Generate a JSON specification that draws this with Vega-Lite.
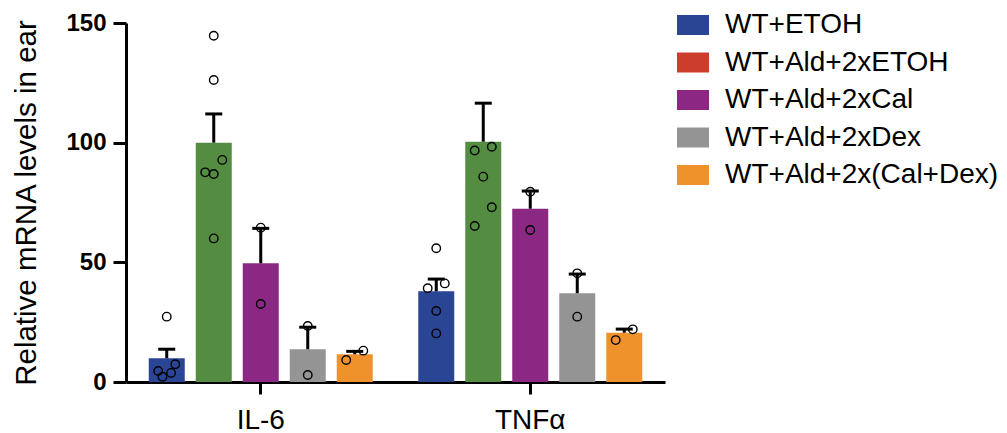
{
  "$schema": "https://vega.github.io/schema/vega-lite/v6.json",
  "autosize": {"type": "none"},
  "padding": {"left": 126, "top": 23, "right": 342, "bottom": 51},
  "width": 539,
  "height": 359,
  "config": {
    "view": {"stroke": null},
    "font": "Liberation Sans",
    "scale": {"offsetBandPaddingInner": 0.23404, "offsetBandPaddingOuter": 0.48404},
    "axisX": {"domainColor": "black", "domainWidth": 3, "tickColor": "black", "tickWidth": 3, "tickSize": 12, "labelFontSize": 28, "labelColor": "black", "labelPadding": 12, "labelAngle": 0, "grid": false, "title": null},
    "axisY": {"domainColor": "black", "domainWidth": 3, "tickColor": "black", "tickWidth": 3, "tickSize": 13, "labelFontSize": 24, "labelFontWeight": "bold", "labelColor": "black", "labelPadding": 7, "grid": false}
  },
  "datasets": {
    "bars": [
      {"gene": "IL-6", "group": "WT+ETOH", "mean": 9.9, "upper": 13.7},
      {"gene": "IL-6", "group": "WT+Ald+2xETOH", "mean": 100, "upper": 112},
      {"gene": "IL-6", "group": "WT+Ald+2xCal", "mean": 49.6, "upper": 64.2},
      {"gene": "IL-6", "group": "WT+Ald+2xDex", "mean": 13.7, "upper": 22.9},
      {"gene": "IL-6", "group": "WT+Ald+2x(Cal+Dex)", "mean": 11.6, "upper": 12.8},
      {"gene": "TNFα", "group": "WT+ETOH", "mean": 37.9, "upper": 43},
      {"gene": "TNFα", "group": "WT+Ald+2xETOH", "mean": 100.4, "upper": 116.5},
      {"gene": "TNFα", "group": "WT+Ald+2xCal", "mean": 72.4, "upper": 79.8},
      {"gene": "TNFα", "group": "WT+Ald+2xDex", "mean": 37.1, "upper": 45.1},
      {"gene": "TNFα", "group": "WT+Ald+2x(Cal+Dex)", "mean": 20.6, "upper": 22.1}
    ],
    "points": [
      {"gene": "IL-6", "slot": "E0", "value": 27.3},
      {"gene": "IL-6", "slot": "E-2", "value": 4.6},
      {"gene": "IL-6", "slot": "E+2", "value": 7.4},
      {"gene": "IL-6", "slot": "E+1", "value": 3.8},
      {"gene": "IL-6", "slot": "E-1", "value": 2.2},
      {"gene": "IL-6", "slot": "A0", "value": 144.7},
      {"gene": "IL-6", "slot": "A0", "value": 126.2},
      {"gene": "IL-6", "slot": "A+2", "value": 92.8},
      {"gene": "IL-6", "slot": "A-2", "value": 87.6},
      {"gene": "IL-6", "slot": "A0", "value": 86.9},
      {"gene": "IL-6", "slot": "A0", "value": 60.0},
      {"gene": "IL-6", "slot": "C0", "value": 64.5},
      {"gene": "IL-6", "slot": "C0", "value": 32.6},
      {"gene": "IL-6", "slot": "D0", "value": 23.4},
      {"gene": "IL-6", "slot": "D0", "value": 2.9},
      {"gene": "IL-6", "slot": "X-2", "value": 9.2},
      {"gene": "IL-6", "slot": "X+2", "value": 13.1},
      {"gene": "TNFα", "slot": "E0", "value": 55.9},
      {"gene": "TNFα", "slot": "E-2", "value": 39.2},
      {"gene": "TNFα", "slot": "E+2", "value": 41.2},
      {"gene": "TNFα", "slot": "E0", "value": 29.7},
      {"gene": "TNFα", "slot": "E0", "value": 20.3},
      {"gene": "TNFα", "slot": "A-2", "value": 96.7},
      {"gene": "TNFα", "slot": "A+2", "value": 98.3},
      {"gene": "TNFα", "slot": "A0", "value": 85.8},
      {"gene": "TNFα", "slot": "A+2", "value": 73.0},
      {"gene": "TNFα", "slot": "A-2", "value": 65.2},
      {"gene": "TNFα", "slot": "C0", "value": 79.5},
      {"gene": "TNFα", "slot": "C0", "value": 63.5},
      {"gene": "TNFα", "slot": "D0", "value": 45.4},
      {"gene": "TNFα", "slot": "D0", "value": 27.3},
      {"gene": "TNFα", "slot": "X-2", "value": 17.5},
      {"gene": "TNFα", "slot": "X+2", "value": 22.0}
    ]
  },
  "layer": [
    {
      "data": {"name": "bars"},
      "mark": {"type": "bar"},
      "encoding": {
        "x": {"field": "gene", "type": "nominal", "scale": {"domain": ["IL-6", "TNFα"], "paddingInner": 0, "paddingOuter": 0}},
        "xOffset": {"field": "group", "type": "nominal", "scale": {"domain": ["WT+ETOH", "WT+Ald+2xETOH", "WT+Ald+2xCal", "WT+Ald+2xDex", "WT+Ald+2x(Cal+Dex)"]}},
        "y": {"field": "mean", "type": "quantitative", "scale": {"domain": [0, 150], "nice": false},
          "axis": {"values": [0, 50, 100, 150], "title": "Relative mRNA levels in ear", "titleFontSize": 29.5, "titleFontWeight": "normal", "titleColor": "black", "titleAngle": 270, "titleX": -100, "titleY": 179.5, "titleAlign": "center", "titleBaseline": "middle"}},
        "color": {"field": "group", "type": "nominal", "legend": null,
          "scale": {"domain": ["WT+ETOH", "WT+Ald+2xETOH", "WT+Ald+2xCal", "WT+Ald+2xDex", "WT+Ald+2x(Cal+Dex)"], "range": ["#2B4595", "#548C41", "#8A2883", "#949494", "#EF922C"]}}
      }
    },
    {
      "data": {"name": "bars"},
      "mark": {"type": "rule", "strokeWidth": 3, "color": "black"},
      "encoding": {
        "x": {"field": "gene", "type": "nominal"},
        "xOffset": {"field": "group", "type": "nominal", "scale": {"domain": ["WT+ETOH", "WT+Ald+2xETOH", "WT+Ald+2xCal", "WT+Ald+2xDex", "WT+Ald+2x(Cal+Dex)"]}},
        "y": {"field": "mean", "type": "quantitative", "scale": {"domain": [0, 150], "nice": false}},
        "y2": {"field": "upper"}
      }
    },
    {
      "data": {"name": "bars"},
      "mark": {"type": "tick", "thickness": 3, "size": 17, "color": "black", "opacity": 1},
      "encoding": {
        "x": {"field": "gene", "type": "nominal"},
        "xOffset": {"field": "group", "type": "nominal", "scale": {"domain": ["WT+ETOH", "WT+Ald+2xETOH", "WT+Ald+2xCal", "WT+Ald+2xDex", "WT+Ald+2x(Cal+Dex)"]}},
        "y": {"field": "upper", "type": "quantitative", "scale": {"domain": [0, 150], "nice": false}}
      }
    },
    {
      "data": {"name": "points"},
      "mark": {"type": "point", "shape": "circle", "filled": false, "stroke": "black", "strokeWidth": 1.4, "size": 72, "opacity": 1},
      "encoding": {
        "x": {"field": "gene", "type": "nominal"},
        "xOffset": {"field": "slot", "type": "nominal", "scale": {"type": "band", "paddingInner": 0, "paddingOuter": 0.0372,
          "domain": ["p1","p2","p3","p4",
                     "E-5","E-4","E-3","E-2","E-1","E0","E+1","E+2","E+3","E+4","E+5",
                     "A-5","A-4","A-3","A-2","A-1","A0","A+1","A+2","A+3","A+4","A+5",
                     "C-5","C-4","C-3","C-2","C-1","C0","C+1","C+2","C+3","C+4","C+5",
                     "D-5","D-4","D-3","D-2","D-1","D0","D+1","D+2","D+3","D+4","D+5",
                     "X-5","X-4","X-3","X-2","X-1","X0","X+1","X+2","X+3","X+4","X+5",
                     "z1","z2","z3","z4"]}},
        "y": {"field": "value", "type": "quantitative", "scale": {"domain": [0, 150], "nice": false}}
      }
    },
    {
      "data": {"name": "bars"},
      "mark": {"type": "bar", "opacity": 0},
      "encoding": {
        "x": {"field": "gene", "type": "nominal"},
        "xOffset": {"field": "group", "type": "nominal", "scale": {"domain": ["WT+ETOH", "WT+Ald+2xETOH", "WT+Ald+2xCal", "WT+Ald+2xDex", "WT+Ald+2x(Cal+Dex)"]}},
        "y": {"field": "mean", "type": "quantitative", "scale": {"domain": [0, 150], "nice": false}},
        "color": {"field": "group", "type": "nominal",
          "scale": {"domain": ["WT+ETOH", "WT+Ald+2xETOH", "WT+Ald+2xCal", "WT+Ald+2xDex", "WT+Ald+2x(Cal+Dex)"], "range": ["#2B4595", "#CC3E2B", "#8A2883", "#949494", "#EF922C"]},
          "legend": {"orient": "none", "legendX": 553, "legendY": -12, "title": null, "labelFontSize": 28, "labelLimit": 500, "labelColor": "black", "symbolType": "M-1.6,-1H1.6V1H-1.6Z", "symbolSize": 400, "symbolOpacity": 1, "symbolStrokeWidth": 0, "labelOffset": 18, "rowPadding": 9.5, "padding": 0}}
      }
    }
  ],
  "resolve": {"scale": {"xOffset": "independent", "color": "independent"}}
}
